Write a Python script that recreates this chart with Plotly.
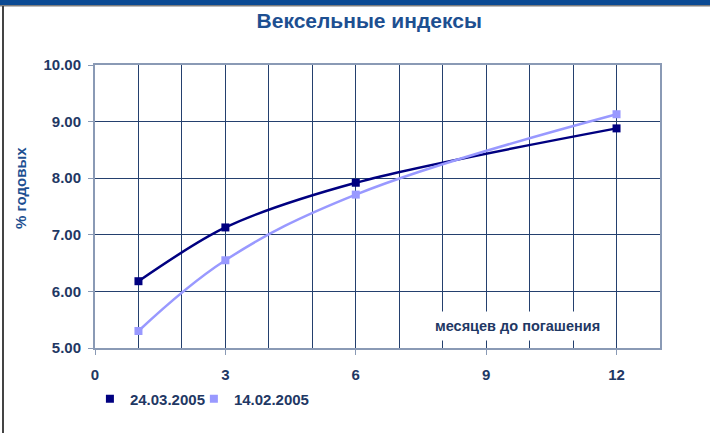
import plotly.graph_objs as go

months = [1, 3, 6, 12]
rates_2403 = [6.18, 7.13, 7.92, 8.88]
rates_1402 = [5.30, 6.55, 7.71, 9.13]
series_names = ['24.03.2005', '14.02.2005']
series_colors = ['#000080', '#9999ff']
x_ticks = [0, 3, 6, 9, 12]
y_ticks = [5, 6, 7, 8, 9, 10]
y_tick_labels = ['5.00', '6.00', '7.00', '8.00', '9.00', '10.00']

navy = '#1f3864'
title_blue = '#1d4f91'
grid = '#24406e'
frame = '#8a9ab5'
font_family = 'Arial, Liberation Sans, sans-serif'

fig = go.Figure()
for vals, name, col, sm in zip([rates_2403, rates_1402], series_names, series_colors, [0.85, 1.1]):
    # smoothed line (no legend entry), markers carry the legend
    fig.add_trace(go.Scatter(
        x=months, y=vals, name=name, mode='lines', showlegend=False,
        line=dict(color=col, width=2.5, shape='spline', smoothing=sm),
        hoverinfo='skip',
    ))
for vals, name, col, lg in zip([rates_2403, rates_1402], series_names, series_colors, ['legend', 'legend2']):
    fig.add_trace(go.Scatter(
        x=months, y=vals, name=name, mode='markers', legend=lg,
        marker=dict(symbol='square', size=8, color=col),
    ))

legend_style = dict(orientation='h', y=-0.18, xanchor='left', yanchor='middle',
                    font=dict(size=15, color=navy, family=font_family, weight='bold'),
                    itemwidth=30, bgcolor='rgba(0,0,0,0)')

fig.update_layout(
    width=710, height=433,
    paper_bgcolor='white', plot_bgcolor='white',
    margin=dict(l=95, r=50, t=65, b=85),
    font=dict(family=font_family, color=navy, size=15, weight='bold'),
    title=dict(text='Вексельные индексы', x=0.52, xanchor='center',
               y=0.953, yanchor='middle',
               font=dict(size=21, color=title_blue, weight='bold')),
    showlegend=True,
    legend=dict(x=-0.009, **legend_style),
    legend2=dict(x=0.175, **legend_style),
    xaxis=dict(
        range=[0, 13], tickvals=x_ticks,
        showgrid=True, gridcolor=grid, gridwidth=1,
        minor=dict(dtick=1, tick0=0, showgrid=True, gridcolor=grid, gridwidth=1),
        showline=True, linecolor=frame, linewidth=2, mirror=True,
        ticks='outside', ticklen=5, tickcolor=frame, ticklabelstandoff=7,
        tickfont=dict(size=15, color=navy, weight='bold'),
        zeroline=False,
    ),
    yaxis=dict(
        range=[5, 10], tickvals=y_ticks, ticktext=y_tick_labels,
        showgrid=True, gridcolor=grid, gridwidth=1,
        showline=True, linecolor=frame, linewidth=2, mirror=True,
        ticks='outside', ticklen=5, tickcolor=frame, ticklabelstandoff=4,
        tickfont=dict(size=15, color=navy, weight='bold'),
        zeroline=False,
    ),
)

# axis captions
fig.add_annotation(
    text='% годовых', textangle=-90, xref='paper', yref='paper',
    x=-0.133, y=0.565, xanchor='center', yanchor='middle', showarrow=False,
    font=dict(size=15, color=title_blue, weight='bold'),
)
fig.add_annotation(
    text='месяцев до погашения', x=9.72, y=5.39, xref='x', yref='y',
    showarrow=False, bgcolor='white', borderpad=6,
    font=dict(size=14.5, color=navy, weight='bold'),
)

# top blue band and left frame
fig.add_shape(type='rect', xref='paper', yref='paper',
              xsizemode='pixel', ysizemode='pixel', xanchor=0, yanchor=1,
              x0=-95, x1=615, y0=60, y1=66, fillcolor='#0b4a93', line_width=0, layer='above')
fig.add_shape(type='rect', xref='paper', yref='paper',
              xsizemode='pixel', ysizemode='pixel', xanchor=0, yanchor=1,
              x0=-95, x1=615, y0=58.5, y1=60, fillcolor='#7d7d7d', line_width=0, layer='above')
fig.add_shape(type='rect', xref='paper', yref='paper',
              xsizemode='pixel', ysizemode='pixel', xanchor=0, yanchor=0,
              x0=-93, x1=-91, y0=-90, y1=283 + 59, fillcolor='#444444', line_width=0, layer='above')

fig.write_html('out.html', config={'displayModeBar': False},
               post_script="document.body.style.margin='0';")
